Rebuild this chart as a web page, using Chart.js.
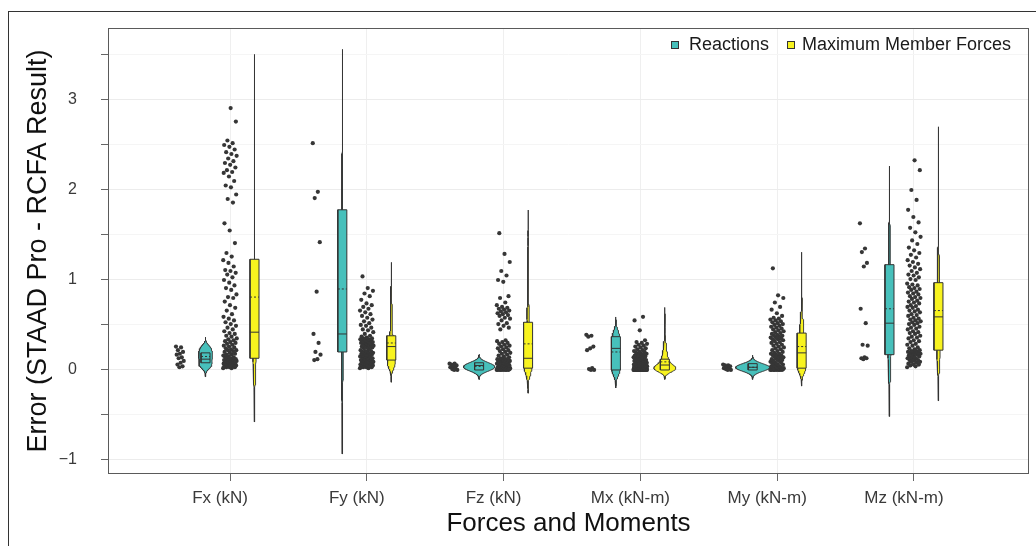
<!DOCTYPE html>
<html><head><meta charset="utf-8">
<script src="https://cdn.jsdelivr.net/npm/chart.js@4.4.1/dist/chart.umd.min.js"></script>
<style>
html,body{margin:0;padding:0;background:#fff;}
#wrap{position:relative;width:1036px;height:546px;overflow:hidden;background:#fff;}
#frame{position:absolute;left:8px;top:11px;width:1100px;height:600px;border-left:1px solid #333;border-top:1px solid #333;}
canvas{position:absolute;left:0;top:0;}
</style></head><body>
<div id="wrap"><div id="frame"></div><canvas id="c" width="1036" height="546"></canvas></div>
<script>
// ---------- data ----------
const categories = ['Fx (kN)','Fy (kN)','Fz (kN)','Mx (kN-m)','My (kN-m)','Mz (kN-m)'];
const seriesNames = ['Reactions','Maximum Member Forces'];
const yTickValues = [-1,-0.5,0,0.5,1,1.5,2,2.5,3,3.5];

const reactionsFx = [0.26,0.25,0.22,0.20,0.18,0.17,0.14,0.13,0.10,0.08,0.06,0.04,0.03];
const reactionsFy = [2.52,1.98,1.91,1.42,0.87,0.40,0.30,0.20,0.17,0.12,0.11];
const reactionsFz = [0.07,0.07,0.06,0.05,0.04,0.03,0.02,0.01,0.00,0.00];
const reactionsMx = [0.39,0.38,0.37,0.26,0.24,0.22,0.02,0.01,0.00,0.00];
const reactionsMy = [0.06,0.05,0.05,0.04,0.03,0.02,0.02,0.01,0.00,0.00];
const reactionsMz = [1.63,1.35,1.31,1.19,1.15,0.68,0.52,0.28,0.27,0.14,0.13,0.13,0.12];

const membersFx = [0.02,0.02,0.03,0.03,0.03,0.04,0.04,0.05,0.05,0.05,0.06,0.06,0.07,0.07,0.07,0.08,0.08,0.08,0.09,0.09,0.09,0.10,0.10,0.10,0.11,0.11,0.11,0.12,0.12,0.12,
  0.13,0.14,0.14,0.15,0.16,0.17,0.17,0.18,0.19,0.20,0.21,0.22,0.22,0.23,0.24,0.25,0.26,0.27,0.28,0.29,0.30,0.31,0.32,0.33,0.34,0.35,0.37,0.38,0.40,0.41,
  0.43,0.45,0.47,0.49,0.51,0.53,0.55,0.57,0.59,0.62,0.66,0.69,0.72,0.76,0.80,0.81,0.84,0.89,0.91,0.94,0.97,1.00,1.03,1.06,1.08,1.10,1.11,1.15,1.19,1.22,
  1.26,1.30,1.41,1.55,1.63,1.86,1.90,1.95,2.03,2.05,2.10,2.15,2.19,2.20,2.22,2.25,2.28,2.30,2.32,2.35,2.38,2.40,2.42,2.45,2.48,2.50,2.52,2.55,2.76,2.91];
const membersFy = [0.02,0.02,0.03,0.03,0.03,0.04,0.04,0.04,0.05,0.05,0.05,0.06,0.06,0.06,0.07,0.07,0.07,0.08,0.08,0.08,0.09,0.09,0.09,0.10,0.10,
  0.11,0.11,0.12,0.12,0.13,0.13,0.14,0.14,0.15,0.15,0.16,0.16,0.17,0.17,0.18,0.18,0.19,0.19,0.20,0.20,0.21,0.21,0.22,0.23,0.24,
  0.25,0.25,0.26,0.26,0.27,0.27,0.28,0.28,0.29,0.29,0.30,0.30,0.31,0.31,0.32,0.32,0.33,0.33,0.34,0.34,0.35,0.35,0.36,0.37,0.38,
  0.40,0.42,0.44,0.45,0.47,0.49,0.50,0.52,0.54,0.56,0.58,0.60,0.62,0.64,0.66,0.68,0.70,0.72,0.74,0.78,0.82,0.85,0.88,0.91,1.04];
const membersFz = [0.00,0.00,0.00,0.00,0.00,0.00,0.00,0.00,0.01,0.01,0.01,0.01,0.01,0.01,0.01,0.01,0.01,0.02,0.02,0.02,0.02,0.02,0.02,0.02,0.02,
  0.03,0.03,0.04,0.04,0.05,0.05,0.05,0.06,0.06,0.07,0.07,0.07,0.08,0.08,0.09,0.09,0.10,0.10,0.10,0.11,0.11,0.12,0.12,0.12,0.13,
  0.14,0.15,0.16,0.17,0.18,0.19,0.20,0.21,0.22,0.23,0.24,0.25,0.26,0.27,0.28,0.29,0.30,0.31,0.32,0.33,0.45,0.47,0.49,0.51,0.52,
  0.55,0.57,0.58,0.60,0.61,0.62,0.63,0.64,0.65,0.66,0.67,0.68,0.69,0.70,0.72,0.75,0.80,0.82,0.98,1.00,1.05,1.10,1.20,1.29,1.52];
const membersMx = [0.00,0.00,0.00,0.00,0.00,0.00,0.00,0.00,0.00,0.00,0.00,0.00,0.00,0.00,0.00,0.00,0.00,0.00,0.00,0.00,0.00,0.00,0.00,0.00,0.00,
  0.01,0.01,0.01,0.01,0.01,0.01,0.01,0.01,0.01,0.01,0.01,0.01,0.02,0.02,0.02,0.02,0.02,0.02,0.02,0.02,0.02,0.02,
  0.03,0.03,0.03,0.03,0.03,0.03,0.03,0.03,0.04,0.04,0.04,0.04,0.04,0.04,0.05,0.05,0.05,0.05,0.05,
  0.06,0.06,0.06,0.06,0.07,0.07,0.07,0.07,0.08,0.08,0.08,0.09,0.09,0.09,0.10,0.10,0.10,0.11,0.11,0.12,0.12,
  0.13,0.13,0.14,0.14,0.15,0.15,0.16,0.16,0.17,0.17,0.18,0.18,0.19,0.20,0.20,0.21,0.22,0.23,0.24,0.25,0.26,0.27,0.28,0.29,0.30,0.31,0.33,0.44,0.55,0.59];
const membersMy = [0.00,0.00,0.00,0.00,0.00,0.00,0.00,0.00,0.01,0.01,0.01,0.01,0.01,0.01,0.01,0.01,0.01,0.02,0.02,0.02,0.02,0.02,0.02,0.02,0.02,
  0.03,0.04,0.04,0.05,0.06,0.06,0.07,0.08,0.08,0.09,0.10,0.10,0.11,0.12,0.12,0.13,0.14,0.14,0.15,0.16,0.16,0.17,0.18,0.18,0.19,
  0.20,0.21,0.22,0.23,0.24,0.25,0.26,0.27,0.28,0.29,0.30,0.31,0.32,0.33,0.34,0.34,0.35,0.36,0.36,0.37,0.38,0.38,0.39,0.40,0.41,
  0.42,0.43,0.44,0.45,0.46,0.47,0.48,0.49,0.50,0.51,0.52,0.53,0.54,0.55,0.56,0.57,0.58,0.60,0.63,0.67,0.70,0.75,0.80,0.83,1.13];
const membersMz = [0.03,0.04,0.05,0.06,0.06,0.07,0.08,0.09,0.09,0.10,0.11,0.11,0.12,0.13,0.13,0.14,0.15,0.15,0.16,0.17,0.17,0.18,0.18,0.19,0.19,0.20,0.20,0.21,0.21,0.22,
  0.23,0.24,0.25,0.27,0.28,0.29,0.31,0.32,0.33,0.35,0.36,0.37,0.38,0.40,0.41,0.42,0.43,0.45,0.46,0.47,0.48,0.50,0.51,0.52,0.53,0.54,0.55,0.56,0.57,0.58,
  0.60,0.61,0.62,0.64,0.65,0.66,0.67,0.69,0.70,0.71,0.72,0.74,0.75,0.76,0.77,0.79,0.80,0.81,0.82,0.84,0.85,0.86,0.87,0.89,0.90,0.91,0.92,0.94,0.95,0.96,
  1.00,1.01,1.03,1.05,1.06,1.08,1.10,1.12,1.14,1.16,1.18,1.20,1.22,1.25,1.28,1.30,1.33,1.36,1.40,1.44,1.48,1.53,1.58,1.64,1.70,1.78,1.89,2.00,2.22,2.33];

// box statistics (Fx, Fy, Fz, Mx, My, Mz)
const reactionsQ1     = [0.08,0.20,0.00,0.00,0.00,0.17];
const reactionsMedian = [0.12,0.40,0.05,0.24,0.03,0.52];
const reactionsQ3     = [0.19,1.78,0.08,0.37,0.07,1.17];
const reactionsMean   = [0.15,0.90,0.04,0.20,0.03,0.68];
const membersQ1       = [0.13,0.11,0.02,0.00,0.02,0.22];
const membersMedian   = [0.42,0.26,0.13,0.055,0.19,0.59];
const membersQ3       = [1.23,0.38,0.53,0.12,0.41,0.97];
const membersMean     = [0.81,0.30,0.29,0.09,0.26,0.66];

// ---------- build ----------
const FONT = "'Liberation Sans', Arial, Helvetica, sans-serif";
const TEAL = '#47c0bb', YELLOW = '#f8f31f', INK = '#333333';
const reactions = [reactionsFx,reactionsFy,reactionsFz,reactionsMx,reactionsMy,reactionsMz];
const members = [membersFx,membersFy,membersFz,membersMx,membersMy,membersMz];
const groups = [
  {name:seriesNames[0], color:TEAL, sets:reactions, q1:reactionsQ1, med:reactionsMedian, q3:reactionsQ3, mean:reactionsMean, dotOff:-0.365, violOff:-0.179, jit:0.03},
  {name:seriesNames[1], color:YELLOW, sets:members, q1:membersQ1, med:membersMedian, q3:membersQ3, mean:membersMean, dotOff:0.0, violOff:0.179, jit:0.05}
];
const BW_ADJUST = 0.7, BW_MIN = 0.035, VIOLIN_HALF = 0.125, BOX_HALF = 0.033;

function quant(s,p){const h=(s.length-1)*p;const lo=Math.floor(h);const hi=Math.min(lo+1,s.length-1);return s[lo]+(h-lo)*(s[hi]-s[lo]);}
function bwNrd0(v){
  const n=v.length, m=v.reduce((a,b)=>a+b,0)/n;
  const sd=Math.sqrt(v.reduce((a,b)=>a+(b-m)*(b-m),0)/(n-1));
  const s=[...v].sort((a,b)=>a-b);
  let lo=Math.min(sd,(quant(s,0.75)-quant(s,0.25))/1.34);
  if(!(lo>0)) lo=sd>0?sd:0.01;
  return 0.9*lo*Math.pow(n,-0.2);
}
function kde(v){
  const bw=Math.max(bwNrd0(v)*BW_ADJUST, BW_MIN);
  const mn=Math.min(...v)-3*bw, mx=Math.max(...v)+3*bw, N=160, out=[];
  for(let i=0;i<N;i++){
    const y=mn+(mx-mn)*i/(N-1); let s=0;
    for(const x of v){const z=(y-x)/bw; s+=Math.exp(-0.5*z*z);}
    out.push({y, d:s/(v.length*bw*Math.sqrt(2*Math.PI))});
  }
  return out;
}
const dens = groups.map(g=>g.sets.map(kde));
let maxD = 0; dens.forEach(gd=>gd.forEach(k=>k.forEach(p=>{if(p.d>maxD)maxD=p.d;})));

const datasets = [];
groups.forEach((g,gi)=>{
  g.sets.forEach((vals,ci)=>{
    const cx = ci+1;
    const vp = cx+g.violOff;
    const k = dens[gi][ci];
    const right = k.map(p=>({x:vp+p.d/maxD*VIOLIN_HALF, y:p.y}));
    const left = k.slice().reverse().map(p=>({x:vp-p.d/maxD*VIOLIN_HALF, y:p.y}));
    datasets.push({type:'line', data:right.concat(left,[right[0]]), borderColor:INK, borderWidth:0.9,
      backgroundColor:g.color, fill:'shape', pointRadius:0, tension:0, borderJoinStyle:'round', order:4});
    datasets.push({type:'line', data:[{x:vp-BOX_HALF,y:g.q1[ci]},{x:vp+BOX_HALF,y:g.q1[ci]},{x:vp+BOX_HALF,y:g.q3[ci]},{x:vp-BOX_HALF,y:g.q3[ci]},{x:vp-BOX_HALF,y:g.q1[ci]}],
      borderColor:INK, borderWidth:1, backgroundColor:g.color, fill:'shape', pointRadius:0, tension:0, order:3});
    datasets.push({type:'line', data:[{x:vp-BOX_HALF,y:g.med[ci]},{x:vp+BOX_HALF,y:g.med[ci]}],
      borderColor:INK, borderWidth:1, fill:false, pointRadius:0, order:2});
    datasets.push({type:'line', data:[{x:vp-BOX_HALF,y:g.mean[ci]},{x:vp+BOX_HALF,y:g.mean[ci]}],
      borderColor:INK, borderWidth:1, borderDash:[2,2], fill:false, pointRadius:0, order:1});
    datasets.push({type:'line', showLine:false, data:vals.map((v,i)=>({x:cx+g.dotOff+(((i*0.6180339887)%1)-0.5)*2*g.jit, y:v})),
      pointRadius:2.1, pointBackgroundColor:'#363636', pointBorderWidth:0, order:0});
  });
});

const decor = {
  id:'decor',
  afterDatasetsDraw(chart){
    const {ctx, chartArea:a} = chart;
    ctx.save();
    ctx.strokeStyle='#5a5a5a'; ctx.lineWidth=1;
    ctx.strokeRect(Math.round(a.left)+0.5, Math.round(a.top)+0.5, Math.round(a.right-a.left)-1, Math.round(a.bottom-a.top)-1);
    // legend
    ctx.font = "18px " + FONT; ctx.textBaseline='middle'; ctx.textAlign='left';
    const items = [{c:TEAL,t:seriesNames[0],sx:a.right-358,tx:a.right-340},{c:YELLOW,t:seriesNames[1],sx:a.right-242,tx:a.right-227}];
    items.forEach(it=>{
      ctx.fillStyle=it.c; ctx.fillRect(it.sx+0.5,41.5,7,7);
      ctx.strokeStyle=INK; ctx.lineWidth=1; ctx.strokeRect(it.sx+0.5,41.5,7,7);
      ctx.fillStyle='#1a1a1a'; ctx.fillText(it.t, it.tx, 45.5);
    });
    ctx.restore();
  }
};

Chart.defaults.font.family = FONT;
new Chart(document.getElementById('c'), {
  type:'line',
  data:{datasets},
  plugins:[decor],
  options:{
    responsive:false, animation:false, events:[],
    layout:{padding:{top:28,right:7,left:0,bottom:0}},
    plugins:{legend:{display:false}, tooltip:{enabled:false}},
    scales:{
      x:{type:'linear', min:0.108, max:6.841,
        afterBuildTicks:ax=>{ax.ticks=categories.map((c,i)=>({value:i+1}));},
        afterFit:ax=>{ax.height=72; ax.paddingLeft=0; ax.paddingRight=0;},
        ticks:{callback:v=>categories[Math.round(v)-1]||'', font:{size:17}, color:'#3a3a3a', padding:7, labelOffset:-10, maxRotation:0, autoSkip:false},
        grid:{color:'#efefef', tickColor:'#666', tickLength:7},
        border:{display:false},
        title:{display:true, text:'Forces and Moments', font:{size:26}, color:'#111', padding:{top:0,bottom:7}}
      },
      y:{type:'linear', min:-1.156, max:3.8,
        afterBuildTicks:ax=>{ax.ticks=yTickValues.map(v=>({value:v}));},
        afterFit:ax=>{ax.width=108; ax.paddingTop=0; ax.paddingBottom=0;},
        ticks:{callback:v=>Number.isInteger(v)?(v<0?'\u2212'+Math.abs(v):String(v)):'', font:{size:16}, color:'#3a3a3a', padding:24, autoSkip:false},
        grid:{color:ctx=>(ctx.tick && Number.isInteger(ctx.tick.value))?'#ececec':'#f5f5f5', tickColor:'#666', tickLength:7},
        border:{display:false},
        title:{display:true, text:'Error (STAAD Pro - RCFA Result)', font:{size:27}, color:'#111', padding:{top:22,bottom:0}}
      }
    }
  }
});
</script>
</body></html>
